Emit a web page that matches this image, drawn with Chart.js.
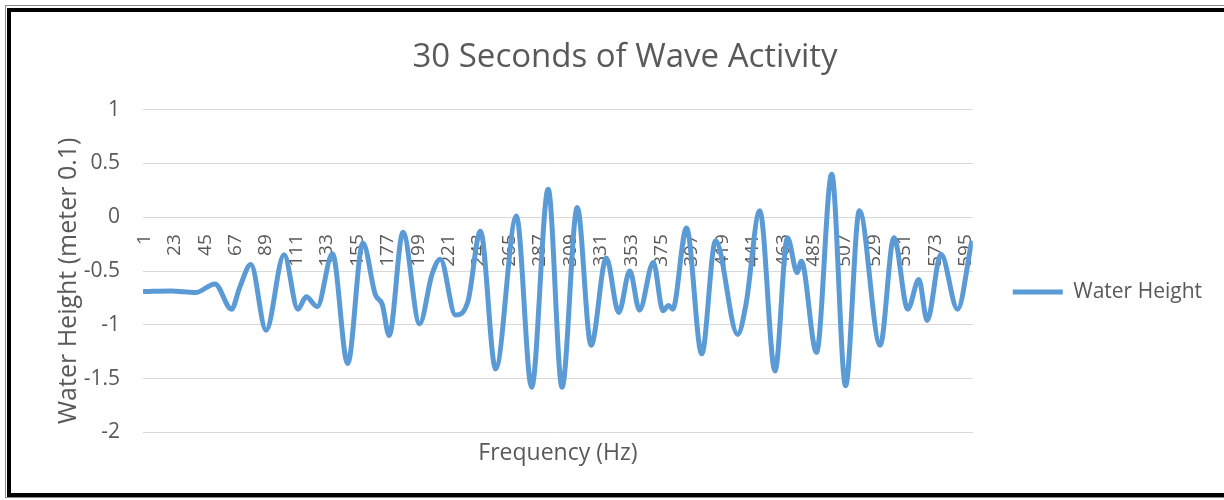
<!DOCTYPE html>
<html>
<head>
<meta charset="utf-8">
<script src="https://cdn.jsdelivr.net/npm/chart.js@4/dist/chart.umd.min.js"></script>
<style>
  html, body { margin: 0; padding: 0; background: #fff; overflow: hidden; }
  #wrap { position: relative; width: 1224px; height: 500px; overflow: hidden; }
  #chart { position: absolute; left: 0; top: 0; }
  .frame-outer { position: absolute; left: 5px; top: 5px; right: -30px; bottom: 2px;
    border: 1px solid #8a8a8a; pointer-events: none; }
  .frame-inner { position: absolute; left: 7px; top: 8px; right: -30px; bottom: 3px;
    border-style: solid; border-color: #000; border-width: 4px 0 4px 4px; pointer-events: none; }
</style>
</head>
<body>
<div id="wrap">
  <canvas id="chart" width="1250" height="500"></canvas>
  <div class="frame-outer"></div>
  <div class="frame-inner"></div>
</div>
<script>
// Sample number (x) and water height (y) at each turning point of the record
const sampleIndex = [
  1, 20, 38, 52, 64, 70, 78, 89, 102, 112, 118, 126, 137, 148, 159, 168, 173, 178,
  188, 200, 209, 215, 226, 235, 244, 255, 270, 281, 293, 303, 314, 324, 335, 344,
  352, 359, 369, 376, 380, 383, 393, 404, 414, 430, 436, 446, 457, 466, 473, 476,
  487, 498, 508, 518, 533, 543, 553, 561, 567, 577, 589, 599
];
const waterHeight = [
  -0.69, -0.685, -0.70, -0.62, -0.855, -0.65, -0.44, -1.05, -0.35, -0.855, -0.74, -0.83, -0.34, -1.36, -0.24, -0.72, -0.81, -1.10,
  -0.14, -0.99, -0.53, -0.39, -0.91, -0.78, -0.13, -1.41, 0.01, -1.58, 0.26, -1.58, 0.09, -1.19, -0.38, -0.886,
  -0.50, -0.864, -0.42, -0.87, -0.82, -0.855, -0.10, -1.27, -0.22, -1.09, -0.81, 0.06, -1.43, -0.19, -0.515, -0.41,
  -1.256, 0.40, -1.565, 0.06, -1.19, -0.19, -0.855, -0.58, -0.96, -0.345, -0.855, -0.24
];
const xTickLabels = [1, 23, 45, 67, 89, 111, 133, 155, 177, 199, 221, 243, 265, 287, 309, 331, 353, 375, 397, 419, 441, 463, 485, 507, 529, 551, 573, 595];
const yTicks = [-2, -1.5, -1, -0.5, 0, 0.5, 1];

const textColor = '#595959';
const fontFamily = '"Open Sans", "Noto Sans", sans-serif';
const points = sampleIndex.map((s, i) => ({ x: s, y: waterHeight[i] }));

new Chart(document.getElementById('chart'), {
  type: 'line',
  data: {
    datasets: [{
      label: 'Water Height',
      data: points,
      borderColor: '#5B9BD5',
      backgroundColor: '#5B9BD5',
      borderWidth: 5,
      borderCapStyle: 'round',
      borderJoinStyle: 'round',
      pointRadius: 0,
      pointStyle: 'line',
      cubicInterpolationMode: 'monotone',
      fill: false
    }]
  },
  options: {
    responsive: false,
    animation: false,
    layout: { padding: { left: 38, right: 38, top: 10, bottom: 33 } },
    plugins: {
      title: {
        display: true,
        text: '30 Seconds of Wave Activity',
        color: textColor,
        font: { family: fontFamily, size: 33, weight: 'normal' },
        padding: { top: 28, bottom: 32 }
      },
      legend: {
        position: 'right',
        title: {
          display: true,
          text: ' ',
          font: { size: 1 },
          padding: { top: 106, bottom: 0 }
        },
        labels: {
          usePointStyle: true,
          pointStyle: 'line',
          pointStyleWidth: 50,
          color: textColor,
          font: { family: fontFamily, size: 21 },
          padding: 40
        }
      },
      tooltip: { enabled: false }
    },
    scales: {
      x: {
        type: 'linear',
        position: { y: 0 },
        min: 0,
        max: 600,
        grid: { display: false, drawTicks: false },
        border: { display: false },
        afterBuildTicks: (axis) => { axis.ticks = xTickLabels.map(v => ({ value: v })); },
        afterFit: (axis) => { axis.paddingLeft = 0; axis.paddingRight = 0; },
        ticks: {
          autoSkip: false,
          minRotation: 90,
          maxRotation: 90,
          padding: 17,
          color: textColor,
          font: { family: fontFamily, size: 19 },
          callback: (v) => String(v)
        }
      },
      xTitle: {
        type: 'linear',
        position: 'bottom',
        min: 0,
        max: 1,
        grid: { display: false, drawTicks: false },
        border: { display: false },
        ticks: { display: false },
        title: {
          display: true,
          text: 'Frequency (Hz)',
          color: textColor,
          font: { family: fontFamily, size: 23 },
          padding: { top: 7, bottom: 0 }
        }
      },
      y: {
        min: -2,
        max: 1,
        afterBuildTicks: (axis) => { axis.ticks = yTicks.map(v => ({ value: v })); },
        afterFit: (axis) => { axis.width = 105; },
        grid: { color: '#d9d9d9', lineWidth: 1, drawTicks: false },
        border: { display: false },
        ticks: {
          padding: 23,
          color: textColor,
          font: { family: fontFamily, size: 21 },
          callback: (v) => String(v)
        },
        title: {
          display: true,
          text: 'Water Height (meter 0.1)   ',
          color: textColor,
          font: { family: fontFamily, size: 25 },
          padding: { top: 16, bottom: 0 }
        }
      }
    }
  }
});
</script>
</body>
</html>
